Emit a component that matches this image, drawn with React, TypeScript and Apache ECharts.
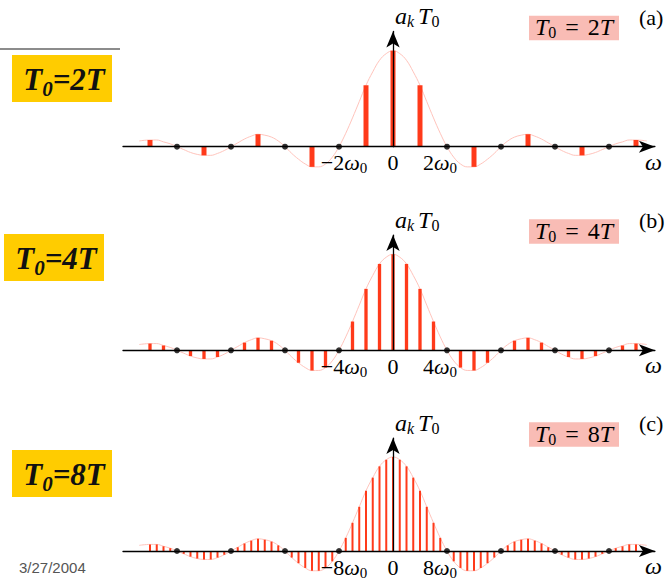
import React, { useEffect, useRef } from 'react';
import * as echarts from 'echarts';

// ---- data (spectra are symmetric, values for k >= 0) ----
const panelTags = ['(a)', '(b)', '(c)'];
const periodMultiples = ['2', '4', '8']; // T0 = nT
const zeroSpacing = [2, 4, 8]; // envelope zeros at multiples of this k
const coefA = [1, 0.64, 0, -0.21, 0, 0.13, 0, -0.09, 0, 0.07];
const coefB = [1, 0.9, 0.64, 0.3, 0, -0.18, -0.21, -0.13, 0, 0.1, 0.13, 0.08, 0, -0.07, -0.09, -0.06, 0, 0.05, 0.07];
const coefC = [
  1, 0.97, 0.9, 0.78, 0.64, 0.47, 0.3, 0.14, 0,
  -0.11, -0.18, -0.21, -0.21, -0.18, -0.13, -0.07, 0,
  0.06, 0.1, 0.12, 0.13, 0.11, 0.08, 0.04, 0,
  -0.04, -0.07, -0.09, -0.09, -0.08, -0.06, -0.03, 0,
  0.03, 0.05, 0.07, 0.07,
];
const envelopeEdgeK = 37.6; // in panel (c) k units
const envelopeEdgeValue = 0.06;
const coefs = [coefA, coefB, coefC];
const xMin = [-10, -20, -40];
const xMax = [9.7, 19.4, 38.8];
const zeroTickLabels = [['−2', '2'], ['−4', '4'], ['−8', '8']];
const dateText = '3/27/2004';

// ---- layout ----
const AXIS_Y = [146.7, 350.3, 553.3];
const GRID_LEFT = 123;
const PX_PER_K = [27, 13.5, 6.75];
const PX_PER_Y = 96;
const Y_MAX = 1.2;
const BAR_W = [5, 3.3, 2];
const YELLOW_BOX = [
  { x: 12, y: 55 },
  { x: 4, y: 234 },
  { x: 12, y: 450 },
];
const RED = '#ff3a1a';
const SERIF = '"Liberation Serif", "DejaVu Serif", serif';

function mirrored(half: number[], scale = 1): [number, number][] {
  const out: [number, number][] = [];
  const n = half.length - 1;
  for (let k = -n; k <= n; k++) out.push([k * scale, half[Math.abs(k)]]);
  return out;
}

function buildOption() {
  const grid: any[] = [];
  const xAxis: any[] = [];
  const yAxis: any[] = [];
  const series: any[] = [];
  const graphic: any[] = [];

  const labelRich = {
    n: { fontFamily: SERIF, fontSize: 22, lineHeight: 26, color: '#000' },
    nl: { fontFamily: SERIF, fontSize: 22, lineHeight: 26, color: '#000', padding: [0, 0, 0, 10] },
    w: { fontFamily: SERIF, fontStyle: 'italic', fontSize: 22, lineHeight: 26, color: '#000' },
    s: { fontFamily: SERIF, fontSize: 15, lineHeight: 15, verticalAlign: 'bottom', color: '#000' },
    sr: { fontFamily: SERIF, fontSize: 15, lineHeight: 15, verticalAlign: 'bottom', color: '#000', padding: [0, 14, 0, 0] },
  };

  for (let i = 0; i < 3; i++) {
    const z = zeroSpacing[i];
    const h = Y_MAX * PX_PER_Y;
    grid.push({
      left: GRID_LEFT,
      top: AXIS_Y[i] - h,
      width: (xMax[i] - xMin[i]) * PX_PER_K[i],
      height: h,
      containLabel: false,
    });
    const [negL, posL] = zeroTickLabels[i];
    xAxis.push({
      gridIndex: i,
      type: 'value',
      min: xMin[i],
      max: xMax[i],
      interval: z,
      z: 3,
      axisLine: {
        onZero: true,
        symbol: ['none', 'arrow'],
        symbolSize: [9, 16],
        lineStyle: { color: '#000', width: 1.3 },
      },
      axisTick: { show: false },
      splitLine: { show: false },
      axisLabel: {
        margin: 3,
        formatter: (v: number) => {
          if (Math.abs(v) < 1e-9) return '{n|0}';
          if (Math.abs(v + z) < 1e-9) return `{nl|${negL}}{w|ω}{s|0}`;
          if (Math.abs(v - z) < 1e-9) return `{n|${posL}}{w|ω}{sr|0}`;
          return '';
        },
        rich: labelRich,
      },
      name: 'ω',
      nameLocation: 'end',
      nameGap: -10,
      nameTextStyle: {
        fontFamily: SERIF,
        fontStyle: 'italic',
        fontSize: 24,
        color: '#000',
        align: 'left',
        verticalAlign: 'top',
        padding: [3, 0, 0, 0],
      },
    });
    yAxis.push({
      gridIndex: i,
      type: 'value',
      min: 0,
      max: Y_MAX,
      z: 3,
      axisLine: {
        onZero: true,
        symbol: ['none', 'arrow'],
        symbolSize: [10, 16],
        lineStyle: { color: '#000', width: 1.3 },
      },
      axisTick: { show: false },
      axisLabel: { show: false },
      splitLine: { show: false },
      name: '{i|a}{k|k}{i|T}{s|0}',
      nameLocation: 'end',
      nameGap: 2,
      nameTextStyle: {
        align: 'left',
        padding: [0, 0, 0, 2],
        rich: {
          i: { fontFamily: SERIF, fontStyle: 'italic', fontSize: 24, lineHeight: 27, color: '#000' },
          k: { fontFamily: SERIF, fontStyle: 'italic', fontSize: 16, lineHeight: 16, verticalAlign: 'bottom', color: '#000', padding: [0, 4, 0, 0] },
          s: { fontFamily: SERIF, fontSize: 16, lineHeight: 16, verticalAlign: 'bottom', color: '#000' },
        },
      },
    });

    // envelope (pink curve), taken from the densest sampling (panel c)
    const scale = z / 8;
    const env: [number, number][] = [
      [-envelopeEdgeK * scale, envelopeEdgeValue],
      ...mirrored(coefC, scale),
      [envelopeEdgeK * scale, envelopeEdgeValue],
    ];
    series.push({
      type: 'line',
      xAxisIndex: i,
      yAxisIndex: i,
      data: env,
      smooth: 0.4,
      symbol: 'none',
      clip: false,
      z: 1,
      lineStyle: { color: '#ffc4bc', width: 1 },
      silent: true,
    });
    series.push({
      type: 'bar',
      xAxisIndex: i,
      yAxisIndex: i,
      data: mirrored(coefs[i]).filter((d) => d[1] !== 0),
      barWidth: BAR_W[i],
      clip: false,
      z: 2,
      itemStyle: { color: RED },
    });
    series.push({
      type: 'scatter',
      xAxisIndex: i,
      yAxisIndex: i,
      data: mirrored(coefs[i]).filter((d) => d[1] === 0 && d[0] !== 0).map((d) => [d[0], 0]),
      symbolSize: 6,
      clip: false,
      z: 4,
      itemStyle: { color: '#000' },
    });

    // pink "T0 = nT" box and panel tag
    graphic.push({
      type: 'rect',
      shape: { x: 529, y: AXIS_Y[i] - 131, width: 90, height: 24.5 },
      style: { fill: '#f9bcb5' },
    });
    graphic.push({
      type: 'text',
      x: 574,
      y: AXIS_Y[i] - 119.5,
      style: {
        text: `{i|T}{s|0}{e|=}{n|${periodMultiples[i]}}{i|T}`,
        align: 'center',
        verticalAlign: 'middle',
        rich: {
          i: { fontFamily: SERIF, fontStyle: 'italic', fontSize: 24, lineHeight: 27, fill: '#000' },
          n: { fontFamily: SERIF, fontSize: 24, lineHeight: 27, fill: '#000' },
          e: { fontFamily: SERIF, fontSize: 24, lineHeight: 27, fill: '#000', padding: [0, 9, 0, 9] },
          s: { fontFamily: SERIF, fontSize: 16, lineHeight: 16, verticalAlign: 'bottom', fill: '#000' },
        },
      },
    });
    graphic.push({
      type: 'text',
      x: 639,
      y: AXIS_Y[i] - 129.5,
      style: {
        text: panelTags[i],
        fontFamily: SERIF,
        fontSize: 22,
        fill: '#000',
        align: 'left',
        verticalAlign: 'middle',
      },
    });

    // yellow "T0=nT" label box
    const yb = YELLOW_BOX[i];
    graphic.push({
      type: 'rect',
      shape: { x: yb.x, y: yb.y, width: 100, height: 47 },
      style: { fill: '#ffcc00' },
    });
    graphic.push({
      type: 'text',
      x: yb.x + 52,
      y: yb.y + 24,
      style: {
        text: `{t|T}{s|0}{t|=${periodMultiples[i]}T}`,
        align: 'center',
        verticalAlign: 'middle',
        rich: {
          t: { fontFamily: SERIF, fontStyle: 'italic', fontWeight: 'bold', fontSize: 31, lineHeight: 40, fill: '#111' },
          s: { fontFamily: SERIF, fontStyle: 'italic', fontWeight: 'bold', fontSize: 21, lineHeight: 16, verticalAlign: 'bottom', fill: '#111' },
        },
      },
    });
  }

  graphic.push({
    type: 'line',
    shape: { x1: 0, y1: 49, x2: 120, y2: 49 },
    style: { stroke: '#666', lineWidth: 1.5 },
  });
  graphic.push({
    type: 'text',
    x: 19,
    y: 567,
    style: {
      text: dateText,
      fontFamily: '"Liberation Sans", Arial, sans-serif',
      fontSize: 15,
      fill: '#555',
      align: 'left',
      verticalAlign: 'middle',
    },
  });

  return {
    animation: false,
    backgroundColor: '#fff',
    grid,
    xAxis,
    yAxis,
    series,
    graphic: { elements: graphic },
  };
}

export default function App() {
  const ref = useRef<HTMLDivElement>(null);
  useEffect(() => {
    if (!ref.current) return;
    const chart = echarts.init(ref.current, undefined, { renderer: 'svg' });
    chart.setOption(buildOption() as any);
    return () => chart.dispose();
  }, []);
  return (
    <div
      ref={ref}
      style={{ position: 'fixed', left: 0, top: 0, width: 667, height: 580, background: '#fff' }}
    />
  );
}
